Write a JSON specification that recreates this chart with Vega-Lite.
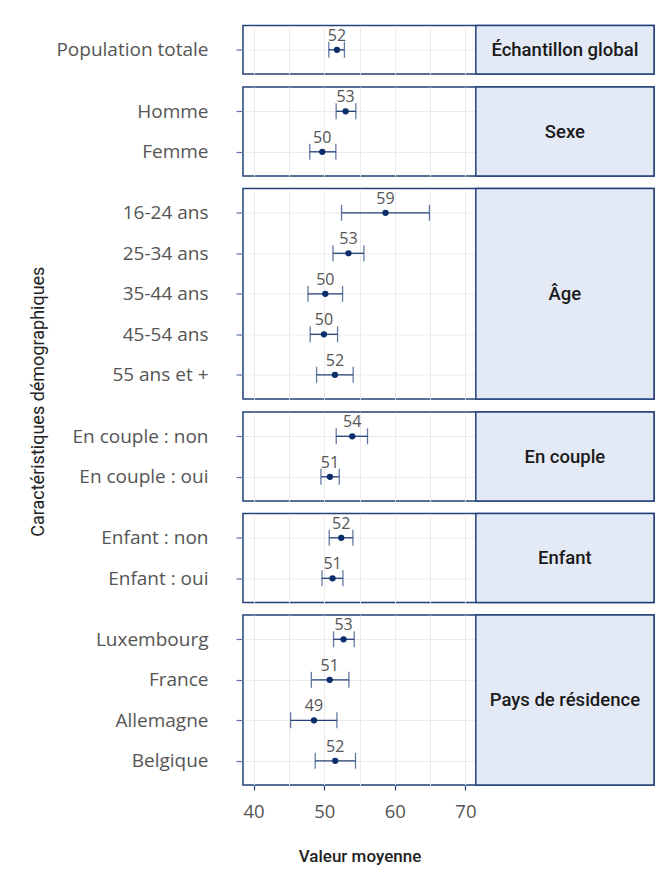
{
  "$schema": "https://vega.github.io/schema/vega-lite/v6.json",
  "padding": {"left": 30, "top": 23.5, "right": 5, "bottom": 5},
  "background": "white",
  "title": {"text": "Caractéristiques démographiques", "orient": "left", "anchor": "middle", "font": "Roboto", "fontSize": 18, "fontWeight": 400, "color": "#222222", "offset": 7, "dx": 43},
  "data": {
    "values": [
      {"groupe": "Échantillon global", "categorie": "Population totale", "ordre": 1, "moyenne": 51.8, "bas": 50.65, "haut": 52.86},
      {"groupe": "Sexe", "categorie": "Homme", "ordre": 2, "moyenne": 53.03, "bas": 51.69, "haut": 54.48},
      {"groupe": "Sexe", "categorie": "Femme", "ordre": 3, "moyenne": 49.72, "bas": 47.95, "haut": 51.65},
      {"groupe": "Âge", "categorie": "16-24 ans", "ordre": 4, "moyenne": 58.68, "bas": 52.45, "haut": 64.9},
      {"groupe": "Âge", "categorie": "25-34 ans", "ordre": 5, "moyenne": 53.44, "bas": 51.24, "haut": 55.62},
      {"groupe": "Âge", "categorie": "35-44 ans", "ordre": 6, "moyenne": 50.15, "bas": 47.7, "haut": 52.6},
      {"groupe": "Âge", "categorie": "45-54 ans", "ordre": 7, "moyenne": 49.96, "bas": 48.02, "haut": 51.89},
      {"groupe": "Âge", "categorie": "55 ans et +", "ordre": 8, "moyenne": 51.52, "bas": 48.92, "haut": 54.1},
      {"groupe": "En couple", "categorie": "En couple : non", "ordre": 9, "moyenne": 53.97, "bas": 51.7, "haut": 56.13},
      {"groupe": "En couple", "categorie": "En couple : oui", "ordre": 10, "moyenne": 50.81, "bas": 49.54, "haut": 52.13},
      {"groupe": "Enfant", "categorie": "Enfant : non", "ordre": 11, "moyenne": 52.41, "bas": 50.71, "haut": 54.06},
      {"groupe": "Enfant", "categorie": "Enfant : oui", "ordre": 12, "moyenne": 51.18, "bas": 49.68, "haut": 52.65},
      {"groupe": "Pays de résidence", "categorie": "Luxembourg", "ordre": 13, "moyenne": 52.74, "bas": 51.32, "haut": 54.25},
      {"groupe": "Pays de résidence", "categorie": "France", "ordre": 14, "moyenne": 50.78, "bas": 48.18, "haut": 53.5},
      {"groupe": "Pays de résidence", "categorie": "Allemagne", "ordre": 15, "moyenne": 48.55, "bas": 45.24, "haut": 51.8},
      {"groupe": "Pays de résidence", "categorie": "Belgique", "ordre": 16, "moyenne": 51.56, "bas": 48.73, "haut": 54.43}
    ]
  },
  "spacing": 8.5,
  "resolve": {"scale": {"x": "independent", "y": "independent"}},
  "vconcat": [
    {
      "transform": [{"filter": "datum.groupe === 'Échantillon global'"}],
      "width": 411, "height": {"step": 40.5},
      "layer": [
        {"encoding": {"y": {"field": "categorie", "type": "nominal", "sort": {"field": "ordre", "op": "min"}, "scale": {"type": "point", "padding": 0.6}, "axis": {"title": null}}},
         "layer": [
          {"mark": {"type": "rule", "color": "#22407a", "strokeWidth": 1.3},
           "encoding": {"x": {"field": "bas", "type": "quantitative", "scale": {"domain": [38.5, 96.7], "nice": false, "zero": false},
             "axis": {"title": null, "labels": false, "ticks": false, "values": [40, 45, 50, 55, 60, 65, 70], "minExtent": 0, "maxExtent": 0}},
             "x2": {"field": "haut"}}},
          {"mark": {"type": "tick", "color": "#22407a", "size": 16, "thickness": 1.3}, "encoding": {"x": {"field": "bas", "type": "quantitative"}}},
          {"mark": {"type": "tick", "color": "#22407a", "size": 16, "thickness": 1.3}, "encoding": {"x": {"field": "haut", "type": "quantitative"}}},
          {"mark": {"type": "circle", "color": "#0c2d6b", "size": 40, "opacity": 1}, "encoding": {"x": {"field": "moyenne", "type": "quantitative"}}},
          {"mark": {"type": "text", "font": "Open Sans", "fontSize": 16, "color": "#555555", "dy": -14, "baseline": "middle"},
           "encoding": {"x": {"field": "moyenne", "type": "quantitative"}, "text": {"field": "moyenne", "type": "quantitative", "format": ".0f"}}}
        ]},
        {"transform": [{"aggregate": [{"op": "count", "as": "n"}], "groupby": ["groupe"]}],
         "mark": {"type": "rect", "fill": "#e4eaf5", "stroke": "#22407a", "strokeWidth": 1.5},
         "encoding": {"x": {"datum": 71.47, "type": "quantitative"}, "x2": {"datum": 96.7}}},
        {"transform": [{"aggregate": [{"op": "count", "as": "n"}], "groupby": ["groupe"]}],
         "mark": {"type": "text", "font": "Roboto", "fontSize": 18.5, "fontWeight": 500, "color": "#1a1a1a", "baseline": "middle", "align": "center"},
         "encoding": {"x": {"datum": 84.08, "type": "quantitative"}, "text": {"field": "groupe", "type": "nominal"}}}
      ]
    },
    {
      "transform": [{"filter": "datum.groupe === 'Sexe'"}],
      "width": 411, "height": {"step": 40.5},
      "layer": [
        {"encoding": {"y": {"field": "categorie", "type": "nominal", "sort": {"field": "ordre", "op": "min"}, "scale": {"type": "point", "padding": 0.6}, "axis": {"title": null}}},
         "layer": [
          {"mark": {"type": "rule", "color": "#22407a", "strokeWidth": 1.3},
           "encoding": {"x": {"field": "bas", "type": "quantitative", "scale": {"domain": [38.5, 96.7], "nice": false, "zero": false},
             "axis": {"title": null, "labels": false, "ticks": false, "values": [40, 45, 50, 55, 60, 65, 70], "minExtent": 0, "maxExtent": 0}},
             "x2": {"field": "haut"}}},
          {"mark": {"type": "tick", "color": "#22407a", "size": 16, "thickness": 1.3}, "encoding": {"x": {"field": "bas", "type": "quantitative"}}},
          {"mark": {"type": "tick", "color": "#22407a", "size": 16, "thickness": 1.3}, "encoding": {"x": {"field": "haut", "type": "quantitative"}}},
          {"mark": {"type": "circle", "color": "#0c2d6b", "size": 40, "opacity": 1}, "encoding": {"x": {"field": "moyenne", "type": "quantitative"}}},
          {"mark": {"type": "text", "font": "Open Sans", "fontSize": 16, "color": "#555555", "dy": -14, "baseline": "middle"},
           "encoding": {"x": {"field": "moyenne", "type": "quantitative"}, "text": {"field": "moyenne", "type": "quantitative", "format": ".0f"}}}
        ]},
        {"transform": [{"aggregate": [{"op": "count", "as": "n"}], "groupby": ["groupe"]}],
         "mark": {"type": "rect", "fill": "#e4eaf5", "stroke": "#22407a", "strokeWidth": 1.5},
         "encoding": {"x": {"datum": 71.47, "type": "quantitative"}, "x2": {"datum": 96.7}}},
        {"transform": [{"aggregate": [{"op": "count", "as": "n"}], "groupby": ["groupe"]}],
         "mark": {"type": "text", "font": "Roboto", "fontSize": 18.5, "fontWeight": 500, "color": "#1a1a1a", "baseline": "middle", "align": "center"},
         "encoding": {"x": {"datum": 84.08, "type": "quantitative"}, "text": {"field": "groupe", "type": "nominal"}}}
      ]
    },
    {
      "transform": [{"filter": "datum.groupe === 'Âge'"}],
      "width": 411, "height": {"step": 40.5},
      "layer": [
        {"encoding": {"y": {"field": "categorie", "type": "nominal", "sort": {"field": "ordre", "op": "min"}, "scale": {"type": "point", "padding": 0.6}, "axis": {"title": null}}},
         "layer": [
          {"mark": {"type": "rule", "color": "#22407a", "strokeWidth": 1.3},
           "encoding": {"x": {"field": "bas", "type": "quantitative", "scale": {"domain": [38.5, 96.7], "nice": false, "zero": false},
             "axis": {"title": null, "labels": false, "ticks": false, "values": [40, 45, 50, 55, 60, 65, 70], "minExtent": 0, "maxExtent": 0}},
             "x2": {"field": "haut"}}},
          {"mark": {"type": "tick", "color": "#22407a", "size": 16, "thickness": 1.3}, "encoding": {"x": {"field": "bas", "type": "quantitative"}}},
          {"mark": {"type": "tick", "color": "#22407a", "size": 16, "thickness": 1.3}, "encoding": {"x": {"field": "haut", "type": "quantitative"}}},
          {"mark": {"type": "circle", "color": "#0c2d6b", "size": 40, "opacity": 1}, "encoding": {"x": {"field": "moyenne", "type": "quantitative"}}},
          {"mark": {"type": "text", "font": "Open Sans", "fontSize": 16, "color": "#555555", "dy": -14, "baseline": "middle"},
           "encoding": {"x": {"field": "moyenne", "type": "quantitative"}, "text": {"field": "moyenne", "type": "quantitative", "format": ".0f"}}}
        ]},
        {"transform": [{"aggregate": [{"op": "count", "as": "n"}], "groupby": ["groupe"]}],
         "mark": {"type": "rect", "fill": "#e4eaf5", "stroke": "#22407a", "strokeWidth": 1.5},
         "encoding": {"x": {"datum": 71.47, "type": "quantitative"}, "x2": {"datum": 96.7}}},
        {"transform": [{"aggregate": [{"op": "count", "as": "n"}], "groupby": ["groupe"]}],
         "mark": {"type": "text", "font": "Roboto", "fontSize": 18.5, "fontWeight": 500, "color": "#1a1a1a", "baseline": "middle", "align": "center"},
         "encoding": {"x": {"datum": 84.08, "type": "quantitative"}, "text": {"field": "groupe", "type": "nominal"}}}
      ]
    },
    {
      "transform": [{"filter": "datum.groupe === 'En couple'"}],
      "width": 411, "height": {"step": 40.5},
      "layer": [
        {"encoding": {"y": {"field": "categorie", "type": "nominal", "sort": {"field": "ordre", "op": "min"}, "scale": {"type": "point", "padding": 0.6}, "axis": {"title": null}}},
         "layer": [
          {"mark": {"type": "rule", "color": "#22407a", "strokeWidth": 1.3},
           "encoding": {"x": {"field": "bas", "type": "quantitative", "scale": {"domain": [38.5, 96.7], "nice": false, "zero": false},
             "axis": {"title": null, "labels": false, "ticks": false, "values": [40, 45, 50, 55, 60, 65, 70], "minExtent": 0, "maxExtent": 0}},
             "x2": {"field": "haut"}}},
          {"mark": {"type": "tick", "color": "#22407a", "size": 16, "thickness": 1.3}, "encoding": {"x": {"field": "bas", "type": "quantitative"}}},
          {"mark": {"type": "tick", "color": "#22407a", "size": 16, "thickness": 1.3}, "encoding": {"x": {"field": "haut", "type": "quantitative"}}},
          {"mark": {"type": "circle", "color": "#0c2d6b", "size": 40, "opacity": 1}, "encoding": {"x": {"field": "moyenne", "type": "quantitative"}}},
          {"mark": {"type": "text", "font": "Open Sans", "fontSize": 16, "color": "#555555", "dy": -14, "baseline": "middle"},
           "encoding": {"x": {"field": "moyenne", "type": "quantitative"}, "text": {"field": "moyenne", "type": "quantitative", "format": ".0f"}}}
        ]},
        {"transform": [{"aggregate": [{"op": "count", "as": "n"}], "groupby": ["groupe"]}],
         "mark": {"type": "rect", "fill": "#e4eaf5", "stroke": "#22407a", "strokeWidth": 1.5},
         "encoding": {"x": {"datum": 71.47, "type": "quantitative"}, "x2": {"datum": 96.7}}},
        {"transform": [{"aggregate": [{"op": "count", "as": "n"}], "groupby": ["groupe"]}],
         "mark": {"type": "text", "font": "Roboto", "fontSize": 18.5, "fontWeight": 500, "color": "#1a1a1a", "baseline": "middle", "align": "center"},
         "encoding": {"x": {"datum": 84.08, "type": "quantitative"}, "text": {"field": "groupe", "type": "nominal"}}}
      ]
    },
    {
      "transform": [{"filter": "datum.groupe === 'Enfant'"}],
      "width": 411, "height": {"step": 40.5},
      "layer": [
        {"encoding": {"y": {"field": "categorie", "type": "nominal", "sort": {"field": "ordre", "op": "min"}, "scale": {"type": "point", "padding": 0.6}, "axis": {"title": null}}},
         "layer": [
          {"mark": {"type": "rule", "color": "#22407a", "strokeWidth": 1.3},
           "encoding": {"x": {"field": "bas", "type": "quantitative", "scale": {"domain": [38.5, 96.7], "nice": false, "zero": false},
             "axis": {"title": null, "labels": false, "ticks": false, "values": [40, 45, 50, 55, 60, 65, 70], "minExtent": 0, "maxExtent": 0}},
             "x2": {"field": "haut"}}},
          {"mark": {"type": "tick", "color": "#22407a", "size": 16, "thickness": 1.3}, "encoding": {"x": {"field": "bas", "type": "quantitative"}}},
          {"mark": {"type": "tick", "color": "#22407a", "size": 16, "thickness": 1.3}, "encoding": {"x": {"field": "haut", "type": "quantitative"}}},
          {"mark": {"type": "circle", "color": "#0c2d6b", "size": 40, "opacity": 1}, "encoding": {"x": {"field": "moyenne", "type": "quantitative"}}},
          {"mark": {"type": "text", "font": "Open Sans", "fontSize": 16, "color": "#555555", "dy": -14, "baseline": "middle"},
           "encoding": {"x": {"field": "moyenne", "type": "quantitative"}, "text": {"field": "moyenne", "type": "quantitative", "format": ".0f"}}}
        ]},
        {"transform": [{"aggregate": [{"op": "count", "as": "n"}], "groupby": ["groupe"]}],
         "mark": {"type": "rect", "fill": "#e4eaf5", "stroke": "#22407a", "strokeWidth": 1.5},
         "encoding": {"x": {"datum": 71.47, "type": "quantitative"}, "x2": {"datum": 96.7}}},
        {"transform": [{"aggregate": [{"op": "count", "as": "n"}], "groupby": ["groupe"]}],
         "mark": {"type": "text", "font": "Roboto", "fontSize": 18.5, "fontWeight": 500, "color": "#1a1a1a", "baseline": "middle", "align": "center"},
         "encoding": {"x": {"datum": 84.08, "type": "quantitative"}, "text": {"field": "groupe", "type": "nominal"}}}
      ]
    },
    {
      "transform": [{"filter": "datum.groupe === 'Pays de résidence'"}],
      "width": 411, "height": {"step": 40.5},
      "layer": [
        {"encoding": {"y": {"field": "categorie", "type": "nominal", "sort": {"field": "ordre", "op": "min"}, "scale": {"type": "point", "padding": 0.6}, "axis": {"title": null}}},
         "layer": [
          {"mark": {"type": "rule", "color": "#22407a", "strokeWidth": 1.3},
           "encoding": {"x": {"field": "bas", "type": "quantitative", "scale": {"domain": [38.5, 96.7], "nice": false, "zero": false},
             "axis": {
               "title": "Valeur moyenne",
               "titleFont": "Roboto",
               "titleFontSize": 17,
               "titleFontWeight": 500,
               "titleColor": "#222222",
               "titleX": 116.5,
               "titleAlign": "center",
               "titlePadding": 28,
               "values": [40, 45, 50, 55, 60, 65, 70],
               "labelExpr": "datum.value % 10 === 0 ? datum.label : ''",
               "tickOpacity": {"condition": {"test": "datum.value % 10 !== 0", "value": 0}, "value": 1},
               "tickColor": "#22407a",
               "tickSize": 5,
               "tickWidth": 1.2,
               "labelPadding": 12,
               "labelFont": "Open Sans",
               "labelFontSize": 18.5,
               "labelColor": "#555555"
             }},
             "x2": {"field": "haut"}}},
          {"mark": {"type": "tick", "color": "#22407a", "size": 16, "thickness": 1.3}, "encoding": {"x": {"field": "bas", "type": "quantitative"}}},
          {"mark": {"type": "tick", "color": "#22407a", "size": 16, "thickness": 1.3}, "encoding": {"x": {"field": "haut", "type": "quantitative"}}},
          {"mark": {"type": "circle", "color": "#0c2d6b", "size": 40, "opacity": 1}, "encoding": {"x": {"field": "moyenne", "type": "quantitative"}}},
          {"mark": {"type": "text", "font": "Open Sans", "fontSize": 16, "color": "#555555", "dy": -14, "baseline": "middle"},
           "encoding": {"x": {"field": "moyenne", "type": "quantitative"}, "text": {"field": "moyenne", "type": "quantitative", "format": ".0f"}}}
        ]},
        {"transform": [{"aggregate": [{"op": "count", "as": "n"}], "groupby": ["groupe"]}],
         "mark": {"type": "rect", "fill": "#e4eaf5", "stroke": "#22407a", "strokeWidth": 1.5},
         "encoding": {"x": {"datum": 71.47, "type": "quantitative"}, "x2": {"datum": 96.7}}},
        {"transform": [{"aggregate": [{"op": "count", "as": "n"}], "groupby": ["groupe"]}],
         "mark": {"type": "text", "font": "Roboto", "fontSize": 18.5, "fontWeight": 500, "color": "#1a1a1a", "baseline": "middle", "align": "center"},
         "encoding": {"x": {"datum": 84.08, "type": "quantitative"}, "text": {"field": "groupe", "type": "nominal"}}}
      ]
    }
  ],
  "config": {
    "view": {"stroke": "#22407a", "strokeWidth": 1.5},
    "axisX": {"domain": false, "grid": true, "gridColor": "#ebebeb", "gridWidth": 1},
    "axisY": {
      "domain": false,
      "grid": true,
      "gridColor": "#ebebeb",
      "gridWidth": 1,
      "tickColor": "#5a74a0",
      "tickSize": 7,
      "tickWidth": 1.2,
      "labelPadding": 28,
      "labelFont": "Open Sans",
      "labelFontSize": 19,
      "labelColor": "#555555"
    }
  }
}
